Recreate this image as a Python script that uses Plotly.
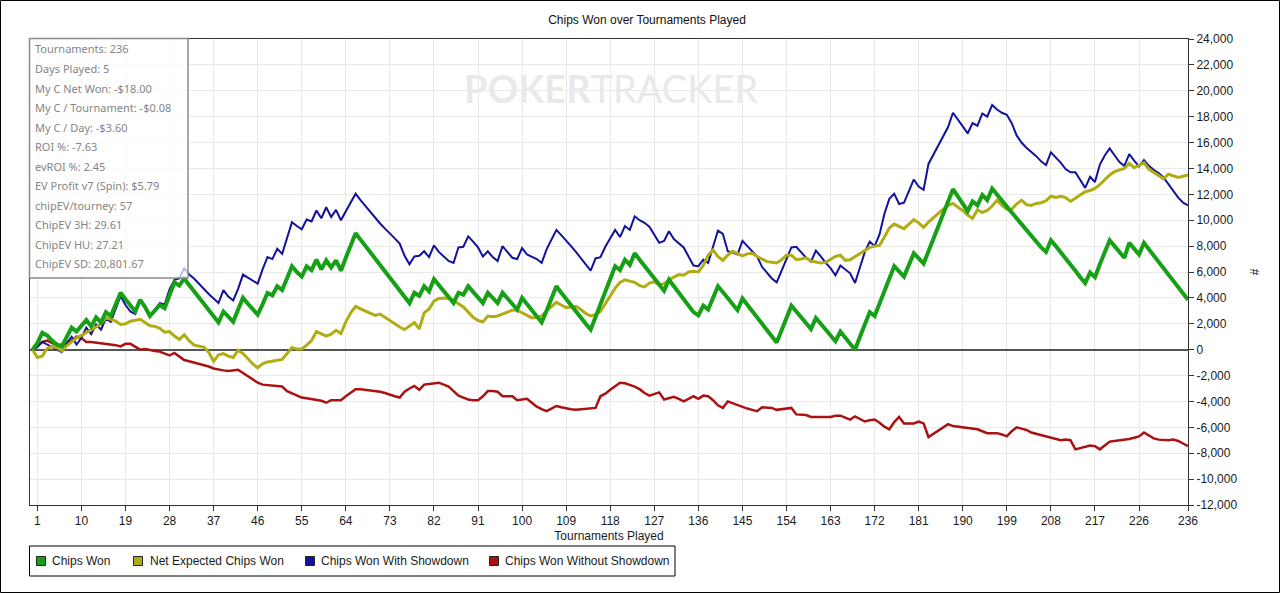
import plotly.graph_objects as go

# ---------------- data ----------------
tournaments = list(range(0, 237))

chips_won = [
    0, 500, 1300, 1100, 700, 400, 250, 1000, 1700, 1400,
    1800, 2300, 1800, 2500, 2100, 2900, 2600, 3500, 4400, 3900,
    3400, 2950, 3850, 3300, 2600, 3000, 3450, 3200, 4200, 5200,
    4950, 5500, 5000, 4500, 4000, 3500, 3000, 2500, 2100, 2950,
    2500, 2150, 3100, 4000, 3550, 3100, 2700, 3500, 4380, 4200,
    4900, 4600, 5500, 6440, 6000, 5650, 6440, 6150, 6950, 6200,
    6900, 6350, 6900, 6100, 7100, 8050, 9000, 8500, 8000, 7500,
    7000, 6500, 6000, 5500, 5000, 4500, 4000, 3600, 4400, 4150,
    4900, 4500, 5450, 5000, 4500, 4000, 3600, 4400, 4250, 4900,
    4450, 4000, 3600, 4400, 3950, 3600, 4400, 3950, 3500, 3100,
    4000, 3550, 3050, 2600, 2100, 3000, 3950, 4900, 4400, 3900,
    3400, 2900, 2450, 2000, 1550, 2550, 3550, 4550, 5550, 6450,
    6150, 6950, 6550, 7450, 6950, 6450, 5950, 5450, 4950, 4550,
    5400, 4900, 4400, 3900, 3400, 2900, 2650, 3400, 3100, 4000,
    4900, 4450, 4000, 3500, 3050, 3950, 3450, 2950, 2450, 1950,
    1450, 1000, 550, 1500, 2450, 3400, 2950, 2500, 2050, 1600,
    2450, 2000, 1550, 1100, 650, 1400, 950, 500, 0, 1000,
    2000, 2900, 2600, 3600, 4550, 5500, 6450, 6050, 5650, 6550,
    7450, 7050, 6650, 7600, 8550, 9500, 10500, 11450, 12400, 11850,
    11250, 10700, 11450, 11150, 11950, 11550, 12450, 11950, 11500, 11050,
    10600, 10150, 9650, 9200, 8750, 8300, 7900, 7550, 8450, 8000,
    7550, 7100, 6600, 6100, 5600, 5150, 5950, 5600, 6600, 7600,
    8450, 8000, 7550, 7100, 8250, 7800, 7350, 8250, 7750, 7250,
    6800, 6300, 5800, 5350, 4850, 4350, 3850,
]

net_expected = [
    0, -600, -500, 100, 250, 150, -100, 300, 600, 900,
    1100, 1300, 1500, 1750, 2000, 2450, 2350, 2200, 1950, 2000,
    2200, 2300, 2350, 2100, 1850, 1800, 1650, 1350, 1400, 1050,
    800, 1150, 700, 350, 300, 200, -200, -900, -400, -300,
    -500, -600, -50, -300, -700, -1100, -1400, -1100, -950, -900,
    -800, -750, -300, 150, 50, 50, 350, 700, 1400, 1250,
    1050, 1200, 1500, 1250, 2150, 2850, 3350, 3150, 3000, 2850,
    2650, 2750, 2500, 2250, 1950, 1750, 1550, 1850, 2100, 1600,
    2850, 3150, 3750, 3950, 4000, 4000, 3800, 3550, 3300, 2900,
    2500, 2250, 2150, 2600, 2550, 2600, 2750, 2900, 3050, 3050,
    2850, 2650, 2450, 2500, 2600, 3000, 3350, 3650, 3450, 3250,
    3300, 3350, 3100, 2800, 2600, 2700, 2950, 3500, 4150, 4750,
    5200, 5400, 5300, 5200, 4950, 4850, 5150, 5250, 5000, 5100,
    5400, 5600, 5800, 5750, 6000, 6050, 6000, 6500, 7300, 7700,
    7200, 6900, 7300, 7600, 7400, 7250, 7400, 7450, 7200, 7000,
    6800, 6750, 6700, 6950, 7300, 7300, 6950, 7000, 7100, 6850,
    6800, 6700, 6750, 6950, 7200, 7300, 6900, 6950, 7200, 7400,
    7650, 7900, 8000, 8050, 8700, 9400, 9700, 9500, 9350, 9700,
    10050, 9800, 9450, 9850, 10200, 10500, 10850, 11150, 11300, 11000,
    10750, 10400, 10150, 10800, 10600, 10750, 11100, 11550, 11150, 10850,
    10850, 11250, 11550, 11200, 11150, 11300, 11350, 11500, 11850, 11750,
    11850, 11750, 11450, 11700, 11950, 12200, 12300, 12450, 12750, 13150,
    13500, 13750, 13850, 14000, 14400, 14050, 14250, 14450, 13950, 13700,
    13450, 13200, 13550, 13400, 13300, 13400, 13500,
]

with_showdown = [
    0, 200, 600, 400, 200, 0, -200, 500, 1000, 400,
    900, 1700, 1200, 1950, 1550, 2400, 2150, 3150, 4150, 3450,
    2950, 2750, 3850, 3250, 2650, 3100, 3600, 3500, 4650, 5400,
    5500, 6300, 5800, 5500, 5100, 4650, 4300, 3950, 3600, 4600,
    4100, 3800, 4700, 5800, 5550, 5350, 5100, 6200, 7150, 7000,
    7800, 7400, 8700, 9850, 9550, 9300, 10050, 9900, 10750, 10150,
    11000, 10250, 10800, 10000, 10700, 11350, 12050, 11550, 11100, 10600,
    10200, 9750, 9350, 9000, 8600, 8200, 7250, 6600, 7200, 7250,
    7600, 7150, 8050, 7550, 7200, 6850, 6700, 7900, 7950, 8750,
    8350, 7900, 7200, 7600, 7150, 6850, 8000, 7550, 7100, 7000,
    7850, 7350, 7150, 7000, 6700, 7750, 8500, 9250, 8850, 8450,
    8000, 7550, 7050, 6600, 6100, 7050, 7150, 7950, 8650, 9250,
    8700, 9550, 9250, 10300, 10000, 9800, 9500, 8850, 8250, 8400,
    9150, 8550, 8200, 7900, 7200, 6500, 6450, 6950, 6700, 7900,
    9200, 8950, 7600, 7500, 7350, 8400, 8000, 7600, 7200, 6400,
    5950, 5500, 5200, 6100, 7000, 7900, 7950, 7550, 7100, 6800,
    7650, 7200, 6700, 6300, 5750, 6500, 6200, 5900, 5150, 6350,
    7550, 8350, 8000, 8900, 10500, 11650, 12050, 11250, 11350, 12250,
    13150, 12600, 12350, 14350, 15050, 15800, 16500, 17200, 18300, 17800,
    17250, 16700, 17500, 17300, 18250, 18000, 18900, 18550, 18300, 18150,
    17500, 16550, 16000, 15600, 15300, 14950, 14550, 14250, 15250, 14850,
    14450, 13950, 13700, 13700, 13150, 12500, 13350, 12950, 14300, 15000,
    15550, 15000, 14500, 14200, 15100, 14600, 14150, 14650, 14200, 13900,
    13650, 13300, 12800, 12300, 11750, 11350, 11150,
]

without_showdown = [
    0, 300, 600, 700, 500, 350, 400, 500, 700, 1000,
    900, 600, 600, 550, 550, 500, 450, 350, 250, 450,
    450, 200, 0, 50, -50, -100, -150, -300, -450, -250,
    -550, -800, -900, -1000, -1050, -1150, -1300, -1450, -1550, -1600,
    -1650, -1600, -1550, -1800, -2050, -2300, -2550, -2700, -2750, -2800,
    -2800, -2850, -3200, -3350, -3550, -3700, -3750, -3800, -3850, -3950,
    -4100, -3900, -3900, -3900, -3600, -3300, -3050, -3050, -3100, -3100,
    -3200, -3250, -3350, -3500, -3600, -3700, -3250, -3000, -2800, -3100,
    -2700, -2650, -2600, -2550, -2700, -2850, -3200, -3550, -3700, -3850,
    -3900, -3900, -3600, -3200, -3200, -3250, -3600, -3600, -3600, -3900,
    -3850, -3800, -4100, -4400, -4600, -4750, -4550, -4350, -4450, -4550,
    -4600, -4650, -4600, -4600, -4550, -4500, -3600, -3400, -3100, -2800,
    -2550, -2600, -2700, -2850, -3050, -3350, -3550, -3400, -3300, -3850,
    -3750, -3650, -3800, -4000, -3800, -3600, -3800, -3550, -3600, -3900,
    -4300, -4500, -4000, -4150, -4300, -4450, -4550, -4650, -4750, -4450,
    -4500, -4500, -4650, -4600, -4550, -4500, -5000, -5050, -5050, -5200,
    -5200, -5200, -5150, -5200, -5100, -5100, -5250, -5400, -5150, -5350,
    -5550, -5450, -5400, -5650, -5950, -6150, -5600, -5200, -5700, -5700,
    -5700, -5550, -5700, -6750, -6500, -6300, -6000, -5750, -5900, -5950,
    -6000, -6000, -6050, -6150, -6300, -6450, -6450, -6450, -6550, -6700,
    -6300, -6000, -6100, -6200, -6400, -6500, -6600, -6750, -6850, -6950,
    -7000, -6950, -7000, -7700, -7600, -7450, -7400, -7450, -7700, -7400,
    -7100, -7050, -7000, -7000, -6900, -6800, -6700, -6400, -6600, -6850,
    -6950, -7000, -7000, -6950, -7050, -7250, -7450,
]

series_names = ["Chips Won", "Net Expected Chips Won",
                "Chips Won With Showdown", "Chips Won Without Showdown"]

x_tick_vals = [1, 10, 19, 28, 37, 46, 55, 64, 73, 82, 91, 100, 109, 118, 127,
               136, 145, 154, 163, 172, 181, 190, 199, 208, 217, 226, 236]
x_tick_text = [str(v) for v in x_tick_vals]
y_tick_vals = [-12000, -10000, -8000, -6000, -4000, -2000, 0, 2000, 4000, 6000,
               8000, 10000, 12000, 14000, 16000, 18000, 20000, 22000, 24000]
y_tick_text = ["-12,000", "-10,000", "-8,000", "-6,000", "-4,000", "-2,000", "0",
               "2,000", "4,000", "6,000", "8,000", "10,000", "12,000", "14,000",
               "16,000", "18,000", "20,000", "22,000", "24,000"]

stats_lines = [
    "Tournaments: 236",
    "Days Played: 5",
    "My C Net Won: -$18.00",
    "My C / Tournament: -$0.08",
    "My C / Day: -$3.60",
    "ROI %: -7.63",
    "evROI %: 2.45",
    "EV Profit v7 (Spin): $5.79",
    "chipEV/tourney: 57",
    "ChipEV 3H: 29.61",
    "ChipEV HU: 27.21",
    "ChipEV SD: 20,801.67",
]

# ---------------- styling ----------------
C_GREEN = "#16a016"
C_OLIVE = "#b2ac14"
C_BLUE = "#12129c"
C_RED = "#aa1212"

W, H = 1280, 593
PL, PR, PT, PB = 30, 1188, 39, 505


def px(x):
    return (x - PL) / (PR - PL)


def py(y):
    return (PB - y) / (PB - PT)


fig = go.Figure()
# drawing order: red, blue, olive, green on top
fig.add_trace(go.Scatter(x=tournaments, y=without_showdown, mode="lines",
                         name=series_names[3], line=dict(color=C_RED, width=2.5)))
fig.add_trace(go.Scatter(x=tournaments, y=with_showdown, mode="lines",
                         name=series_names[2], line=dict(color=C_BLUE, width=2)))
fig.add_trace(go.Scatter(x=tournaments, y=net_expected, mode="lines",
                         name=series_names[1], line=dict(color=C_OLIVE, width=3)))
fig.add_trace(go.Scatter(x=tournaments, y=chips_won, mode="lines",
                         name=series_names[0], line=dict(color=C_GREEN, width=4)))

tick_font = dict(family="Liberation Sans, Arial, sans-serif", size=12, color="#1a1a1a")

fig.update_layout(
    width=W, height=H,
    margin=dict(l=PL, r=W - PR, t=PT, b=H - PB),
    paper_bgcolor="white", plot_bgcolor="white",
    showlegend=False,
    title=dict(text="Chips Won over Tournaments Played",
               font=dict(family="Liberation Sans, Arial, sans-serif", size=12, color="#111"),
               x=px(647), xref="paper", xanchor="center",
               y=1 - 20 / H, yref="container", yanchor="middle"),
    xaxis=dict(range=[-0.5, 236], tickmode="array", tickvals=x_tick_vals,
               ticktext=x_tick_text, ticks="outside", ticklen=5, tickcolor="#333",
               showgrid=True, gridcolor="#e9e9e9", gridwidth=1,
               showline=True, linecolor="#333", linewidth=1, mirror=True,
               zeroline=False, tickfont=tick_font,
               title=dict(text="Tournaments Played", font=tick_font, standoff=4)),
    yaxis=dict(range=[-12000, 24000], side="right", tickmode="array",
               tickvals=y_tick_vals, ticktext=y_tick_text,
               ticks="outside", ticklen=5, tickcolor="#333",
               showgrid=True, gridcolor="#e9e9e9", gridwidth=1,
               showline=True, linecolor="#333", linewidth=1, mirror=True,
               zeroline=True, zerolinecolor="#555", zerolinewidth=1.5,
               tickfont=tick_font,
               title=dict(text="#", font=tick_font, standoff=14)),
)

shapes = []
annotations = []

# outer frame of the picture
shapes.append(dict(type="rect", xref="paper", yref="paper",
                   x0=px(0.5), x1=px(W - 0.5), y0=py(H - 0.5), y1=py(0.5),
                   line=dict(color="#000", width=1), layer="above"))

# stats box
shapes.append(dict(type="rect", xref="paper", yref="paper",
                   x0=px(29.5), x1=px(188), y0=py(278), y1=py(38.5),
                   line=dict(color="#8a8a8a", width=1.5),
                   fillcolor="rgba(255,255,255,0.72)", layer="above"))
for i, line in enumerate(stats_lines):
    annotations.append(dict(text=line, xref="paper", yref="paper",
                            x=px(33), y=py(49 + 19.5 * i), xanchor="left",
                            yanchor="middle", showarrow=False,
                            font=dict(family="Noto Sans, Open Sans, sans-serif",
                                      size=11, color="#858585")))

# watermark
annotations.append(dict(text="<b>POKER</b>TRACKER", xref="paper", yref="paper",
                        x=px(611), y=py(88), xanchor="center", yanchor="middle",
                        showarrow=False,
                        font=dict(family="Lato, Roboto, sans-serif", size=38,
                                  color="#e9e9e9")))

# legend box
shapes.append(dict(type="rect", xref="paper", yref="paper",
                   x0=px(29.5), x1=px(675), y0=py(576), y1=py(546),
                   line=dict(color="#000", width=1), fillcolor="white"))
legend_items = [(series_names[0], C_GREEN, 41, 50),
                (series_names[1], C_OLIVE, 138, 148),
                (series_names[2], C_BLUE, 310, 319),
                (series_names[3], C_RED, 494, 503)]
for name, col, sx, tx in legend_items:
    shapes.append(dict(type="rect", xref="paper", yref="paper",
                       x0=px(sx - 4.5), x1=px(sx + 4.5),
                       y0=py(561 + 4.5), y1=py(561 - 4.5),
                       line=dict(color="#222", width=1), fillcolor=col))
    annotations.append(dict(text=name, xref="paper", yref="paper",
                            x=px(tx), y=py(561), xanchor="left", yanchor="middle",
                            showarrow=False, font=tick_font))

fig.update_layout(shapes=shapes, annotations=annotations)

fig.write_html("out.html",
               config={"displayModeBar": False},
               post_script="document.body.style.margin='0';"
                           "document.body.style.overflow='hidden';")
